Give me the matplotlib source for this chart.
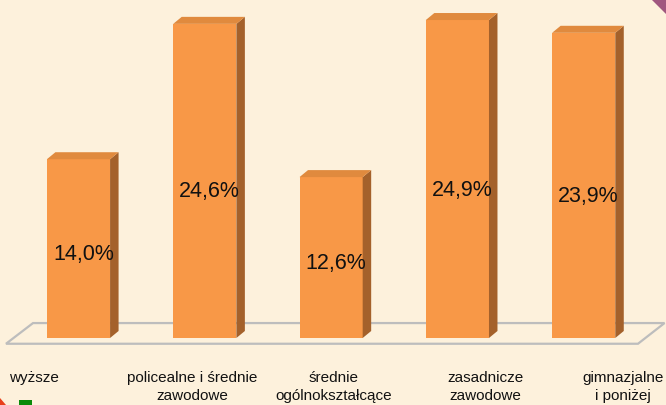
import matplotlib
matplotlib.use("Agg")
import matplotlib.pyplot as plt
from matplotlib.patches import Polygon, Rectangle

# ---- data ----
categories = ["wyższe", "policealne i średnie\nzawodowe", "średnie\nogólnokształcące",
              "zasadnicze\nzawodowe", "gimnazjalne\ni poniżej"]
values = [14.0, 24.6, 12.6, 24.9, 23.9]

# ---- layout / style ----
BG = "#FDF1DC"
FRONT = "#F89847"
SIDE = "#A4612B"
TOP = "#E08A3E"
FLOOR = "#BDBDBD"
BAR_W = 0.5
PX_X = 126.3      # pixels per category unit
PX_Y = 12.77      # pixels per percent
DX = 8.5 / PX_X   # 3D depth offset
DY = 7 / PX_Y
LABEL_SHIFT = [-0.35, -0.10, 0.02, 0.22, 0.31]

fig = plt.figure(figsize=(6.66, 4.05), dpi=100, facecolor=BG)
ax = fig.add_axes([0, 0, 1, 1])
ax.set_facecolor(BG)
ax.set_xlim(-78.5 / PX_X, (666 - 78.5) / PX_X)
ax.set_ylim(-67 / PX_Y, 338 / PX_Y)
ax.axis("off")

x = list(range(len(values)))

# floor (3D base plane outline)
floor = Polygon([(-0.574, -0.45), (-0.36, 1.17), (4.64, 1.17), (4.43, -0.45)],
                closed=True, facecolor="none", edgecolor=FLOOR, linewidth=1.6, zorder=1)
ax.add_patch(floor)

# bars: front faces
ax.bar(x, values, width=BAR_W, color=FRONT, edgecolor="none", zorder=3)
for xi, v in zip(x, values):
    r = xi + BAR_W / 2
    l = xi - BAR_W / 2
    ax.add_patch(Polygon([(r, 0), (r + DX, DY), (r + DX, v + DY), (r, v)],
                         closed=True, facecolor=SIDE, edgecolor="none", zorder=3))
    ax.add_patch(Polygon([(l, v), (l + DX, v + DY), (r + DX, v + DY), (r, v)],
                         closed=True, facecolor=TOP, edgecolor="none", zorder=3))
    ax.text(xi + DX / 2 + 0.005, v * 0.465, f"{v:.1f}".replace(".", ",") + "%",
            ha="center", va="center", fontsize=15.5, family="Liberation Sans",
            color="#111111", zorder=4)

# category labels
for xi, cat, sh in zip(x, categories, LABEL_SHIFT):
    ax.text(xi + sh, -2.59, cat, ha="center", va="top", fontsize=11,
            family="Liberation Sans", color="#111111", linespacing=1.37)

# slide decorations
fig.patches.append(Rectangle((19 / 666, 0), 13 / 666, 5 / 405, transform=fig.transFigure,
                             facecolor="#0A8A0A", edgecolor="none"))
fig.patches.append(Polygon([(0, 0), (0, 7 / 405), (6 / 666, 0)], closed=True,
                           transform=fig.transFigure, facecolor="#E8401C", edgecolor="none"))
fig.patches.append(Polygon([(652 / 666, 1), (1, 1), (1, 1 - 14 / 405)], closed=True,
                           transform=fig.transFigure, facecolor="#A0577F", edgecolor="none"))

fig.savefig("out.png", dpi=100, facecolor=BG)
